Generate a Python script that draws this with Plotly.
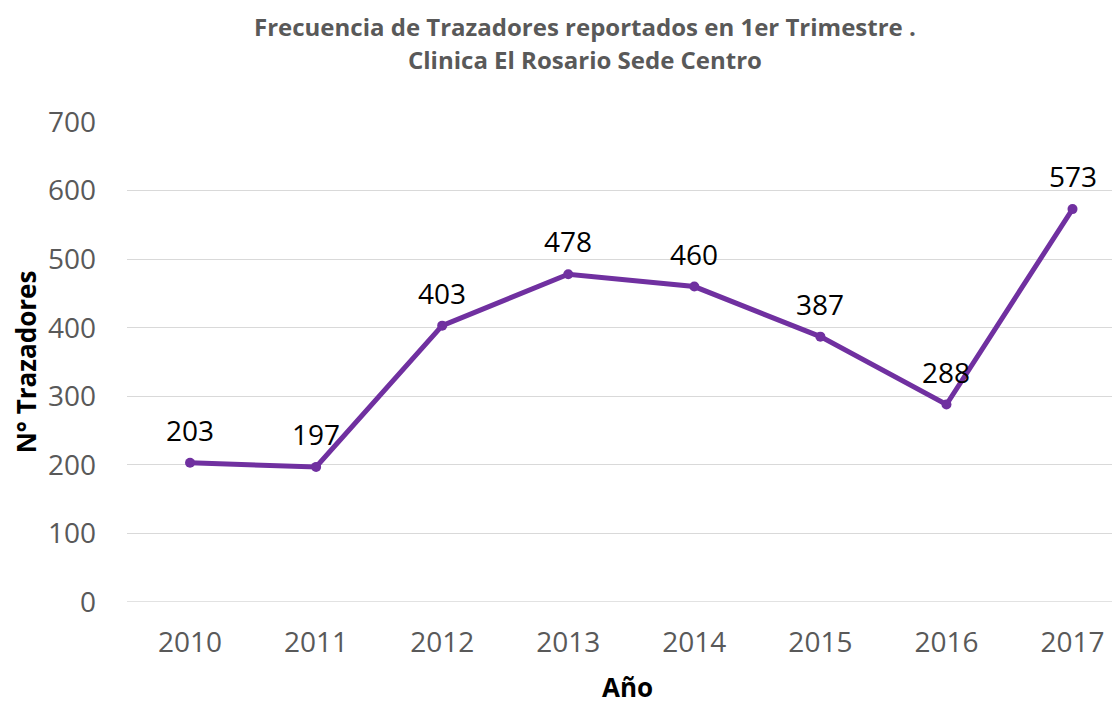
import plotly.graph_objects as go

years = ["2010", "2011", "2012", "2013", "2014", "2015", "2016", "2017"]
trazadores = [203, 197, 403, 478, 460, 387, 288, 573]
y_ticks = [0, 100, 200, 300, 400, 500, 600, 700]
title_lines = ["Frecuencia de Trazadores reportados en 1er Trimestre .",
               "Clinica El Rosario Sede Centro"]

FONT = "Open Sans"

fig = go.Figure()
fig.add_trace(go.Scatter(
    x=years, y=trazadores,
    mode="lines+markers",
    line=dict(color="#7030A0", width=5),
    marker=dict(color="#7030A0", size=10),
    cliponaxis=False,
    hoverinfo="x+y",
))

# data labels (category axis: annotation x is the category index)
for i, v in enumerate(trazadores):
    fig.add_annotation(x=i, y=v, xref="x", yref="y", text=str(v), showarrow=False,
                       xanchor="center", yanchor="middle", yshift=33,
                       font=dict(family=FONT, size=28, color="#000000"))

for line, ypos in zip(title_lines, [1.198, 1.131]):
    fig.add_annotation(xref="paper", yref="paper", x=0.4575, xanchor="center",
                       y=ypos, yanchor="middle",
                       text="<b>" + line + "</b>", showarrow=False,
                       font=dict(family=FONT, size=24, color="#595959"))

fig.update_layout(
    width=1120, height=704,
    margin=dict(l=119, r=0, t=114, b=110, autoexpand=False),
    paper_bgcolor="white", plot_bgcolor="white",
    showlegend=False,
    xaxis=dict(
        type="category",
        range=[-0.5, 7.44],
        showgrid=False, showline=False, zeroline=False,
        tickfont=dict(family=FONT, size=28, color="#595959"),
        ticks="", ticklabelstandoff=21, automargin=False,
        title=dict(text="<b>Año</b>", font=dict(family=FONT, size=26, color="#000000"), standoff=19),
    ),
    yaxis=dict(
        range=[0, 700],
        tickvals=y_ticks,
        showgrid=True, gridcolor="#d9d9d9", gridwidth=1.3,
        zeroline=False, showline=False,
        tickfont=dict(family=FONT, size=28, color="#595959"),
        ticks="", ticklabelstandoff=30, automargin=False,
        title=dict(text="<b>N° Trazadores</b>", font=dict(family=FONT, size=26, color="#000000"), standoff=20),
    ),
)
fig.add_shape(type="line", xref="paper", yref="y", x0=0, x1=1, y0=0, y1=0,
              line=dict(color="#d9d9d9", width=1.3))

fig.write_html("out.html")
